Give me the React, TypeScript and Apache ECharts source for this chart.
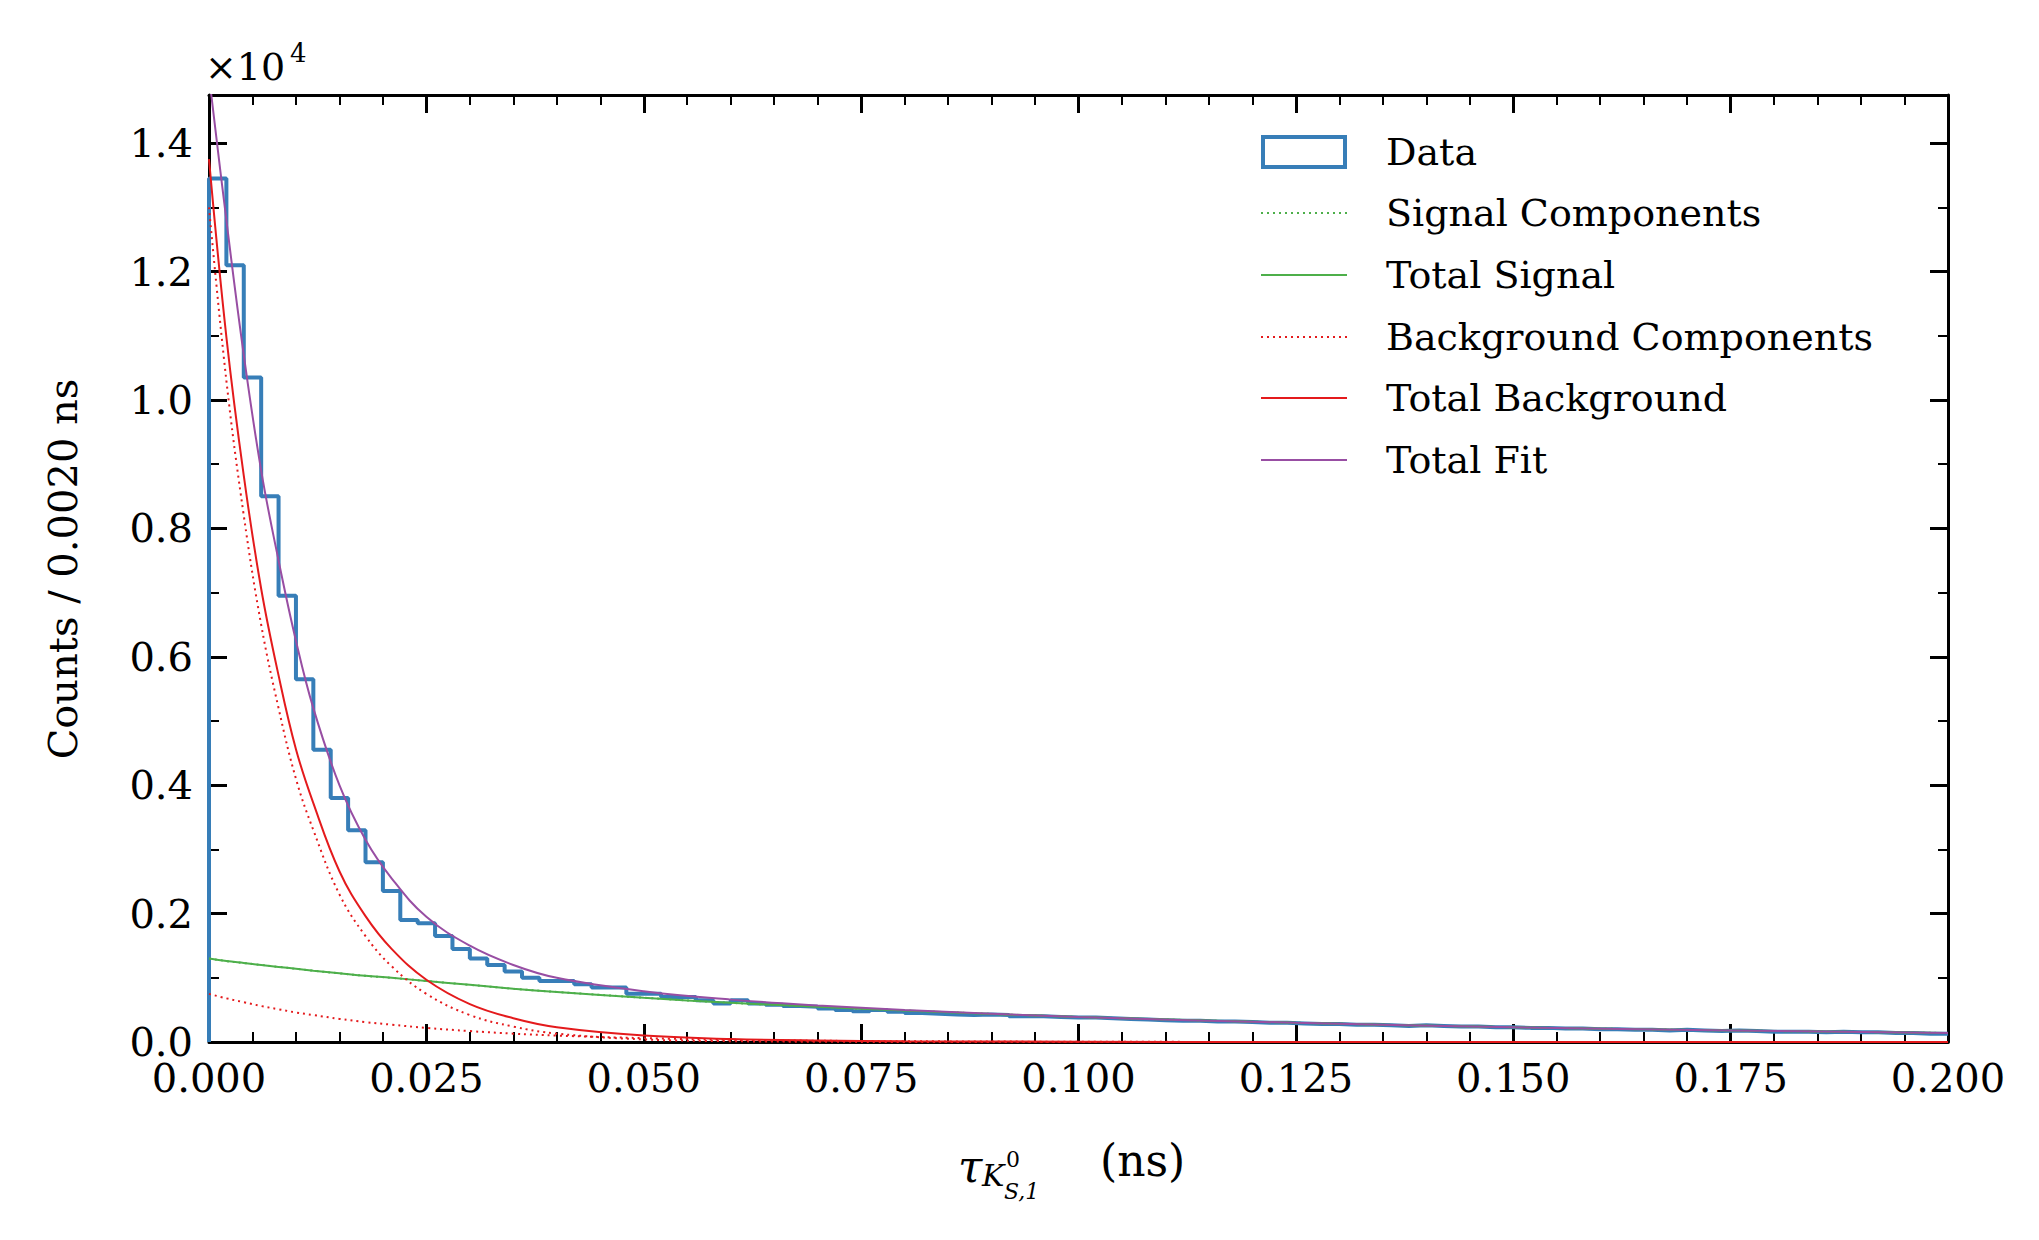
import React, { useEffect, useRef } from "react";
import * as echarts from "echarts";

const binWidth = 0.002;
const counts = [
  1.345, 1.21, 1.035, 0.85, 0.695, 0.565, 0.455, 0.38, 0.33, 0.28,
  0.235, 0.19, 0.185, 0.165, 0.145, 0.13, 0.12, 0.11, 0.1, 0.095,
  0.095, 0.09, 0.085, 0.085, 0.075, 0.075, 0.07, 0.07, 0.065, 0.06,
  0.065, 0.06, 0.058, 0.056, 0.055, 0.052, 0.05, 0.048, 0.05, 0.047,
  0.045, 0.044, 0.043, 0.042, 0.043, 0.042, 0.04, 0.04, 0.039, 0.038,
  0.038, 0.037, 0.036, 0.035, 0.034, 0.033, 0.033, 0.032, 0.032, 0.031,
  0.03, 0.03, 0.029, 0.028, 0.028, 0.027, 0.027, 0.026, 0.025, 0.026,
  0.025, 0.024, 0.024, 0.023, 0.023, 0.022, 0.022, 0.021, 0.021, 0.02,
  0.02, 0.019, 0.019, 0.018, 0.019, 0.018, 0.017, 0.018, 0.017, 0.016,
  0.016, 0.016, 0.015, 0.016, 0.015, 0.015, 0.014, 0.014, 0.013, 0.013,
];
const curveX = [0, 0.002, 0.004, 0.006, 0.008, 0.01, 0.012, 0.015, 0.018, 0.021, 0.025, 0.03, 0.035, 0.04, 0.05, 0.06, 0.07, 0.08, 0.1, 0.125, 0.15, 0.175, 0.2];
const bgFast = [1.3, 1.03, 0.82, 0.65, 0.52, 0.41, 0.33, 0.23, 0.165, 0.118, 0.075, 0.042, 0.024, 0.013, 0.004, 0.0013, 0.0004, 0.0001, 0, 0, 0, 0, 0];
const bgSlow = [0.075, 0.068, 0.062, 0.056, 0.051, 0.046, 0.042, 0.036, 0.031, 0.027, 0.022, 0.017, 0.013, 0.01, 0.006, 0.0035, 0.002, 0.0012, 0.0004, 0.0001, 0, 0, 0];
const bgTotal = [1.375, 1.098, 0.882, 0.706, 0.571, 0.456, 0.372, 0.266, 0.196, 0.145, 0.097, 0.059, 0.037, 0.023, 0.01, 0.0048, 0.0024, 0.0013, 0.0004, 0.0001, 0, 0, 0];
const sigTotal = [0.13, 0.126, 0.123, 0.12, 0.117, 0.114, 0.111, 0.107, 0.103, 0.1, 0.095, 0.089, 0.083, 0.078, 0.069, 0.061, 0.055, 0.049, 0.039, 0.03, 0.023, 0.018, 0.014];
const totalFit = [1.505, 1.28, 1.07, 0.89, 0.75, 0.625, 0.52, 0.4, 0.315, 0.255, 0.195, 0.15, 0.12, 0.1, 0.079, 0.066, 0.057, 0.05, 0.039, 0.03, 0.023, 0.018, 0.014];
const legendItems = ["Data", "Signal Components", "Total Signal", "Background Components", "Total Background", "Total Fit"];

const BLUE = "#377eb8", GREEN = "#4daf4a", RED = "#e41a1c", PURPLE = "#984ea3";
const FONT = "DejaVu Serif";

export default function App() {
  const ref = useRef<HTMLDivElement>(null);
  useEffect(() => {
    document.body.style.margin = "0";
    const chart = echarts.init(ref.current!, null, { renderer: "svg" });
    const hist: number[][] = [[0, 0]];
    counts.forEach((c, i) => hist.push([i * binWidth, c]));
    hist.push([counts.length * binWidth, counts[counts.length - 1]]);
    const pts = (ys: number[]) => curveX.map((x, i) => [x, ys[i]]);
    const line = (name: string, ys: number[], color: string, dotted = false, w = 2) => ({
      name, type: "line", data: pts(ys), smooth: 0.4, showSymbol: false, symbol: "none",
      lineStyle: { color, width: w, type: dotted ? [2, 4] : "solid" }, z: 3,
    });
    const tick = { show: true, inside: true, length: 18, lineStyle: { width: 3, color: "#000" } };
    const axisLine = { show: true, onZero: false, lineStyle: { color: "#000", width: 3 } };
    const legendG: any[] = [];
    const rows = [152, 213, 275, 337, 398, 460];
    const cols = [BLUE, GREEN, GREEN, RED, RED, PURPLE];
    legendItems.forEach((t, i) => {
      const y = rows[i];
      if (i === 0) {
        legendG.push({ type: "rect", shape: { x: 1263, y: y - 15, width: 82, height: 30 }, style: { fill: "none", stroke: BLUE, lineWidth: 4 } });
      } else {
        legendG.push({ type: "line", shape: { x1: 1261, y1: y, x2: 1347, y2: y }, style: { stroke: cols[i], lineWidth: 2, lineDash: i === 1 || i === 3 ? [2, 4] : null } });
      }
      legendG.push({ type: "text", x: 1386, y, style: { text: t, font: `38px ${FONT}`, fill: "#000", verticalAlign: "middle" } });
    });
    const xBase = { type: "value", min: 0, max: 0.2, interval: 0.025, axisLine, splitLine: { show: false }, axisTick: tick,
      minorTick: { show: true, splitNumber: 5, length: 10, lineStyle: { width: 2, color: "#000" } } };
    const yBase = { type: "value", min: 0, max: 1.475, interval: 0.2, axisLine, splitLine: { show: false }, axisTick: tick,
      minorTick: { show: true, splitNumber: 2, length: 10, lineStyle: { width: 2, color: "#000" } } };
    chart.setOption({
      animation: false,
      grid: { left: 209, right: 91, top: 95, bottom: 198 },
      xAxis: [
        { ...xBase, axisLabel: { formatter: (v: number) => v.toFixed(3), fontFamily: FONT, fontSize: 40, color: "#000", margin: 16 } },
        { ...xBase, position: "top", axisLabel: { show: false } },
      ],
      yAxis: [
        { ...yBase, axisLabel: { formatter: (v: number) => v > 1.45 ? "" : v.toFixed(1), fontFamily: FONT, fontSize: 40, color: "#000", margin: 16 } },
        { ...yBase, position: "right", axisLabel: { show: false } },
      ],
      series: [
        { name: "Data", type: "line", step: "end", data: hist, showSymbol: false, symbol: "none", lineStyle: { color: BLUE, width: 4 }, z: 2 },
        line("Signal Components", sigTotal, GREEN, true),
        line("Total Signal", sigTotal, GREEN),
        line("Background Components", bgFast, RED, true),
        { ...line("Background Components", bgSlow, RED, true) },
        line("Total Background", bgTotal, RED),
        line("Total Fit", totalFit, PURPLE),
      ],
      graphic: [
        { type: "text", x: 205, y: 48, style: { text: "×10", font: `38px ${FONT}`, fill: "#000" } },
        { type: "text", x: 290, y: 40, style: { text: "4", font: `26px ${FONT}`, fill: "#000" } },
        { type: "text", x: 63, y: 569, rotation: Math.PI / 2, style: { text: "Counts / 0.0020 ns", font: `40px ${FONT}`, fill: "#000", align: "center", verticalAlign: "middle" } },
        { type: "text", x: 958, y: 1144, style: { text: "τ", font: `italic 44px ${FONT}`, fill: "#000" } },
        { type: "text", x: 982, y: 1160, style: { text: "K", font: `italic 30px ${FONT}`, fill: "#000" } },
        { type: "text", x: 1006, y: 1148, style: { text: "0", font: `22px ${FONT}`, fill: "#000" } },
        { type: "text", x: 1004, y: 1180, style: { text: "S,1", font: `italic 22px ${FONT}`, fill: "#000" } },
        { type: "text", x: 1100, y: 1138, style: { text: "(ns)", font: `44px ${FONT}`, fill: "#000" } },
        ...legendG,
      ],
    });
    return () => chart.dispose();
  }, []);
  return <div ref={ref} style={{ width: 2039, height: 1240, background: "#fff" }} />;
}
